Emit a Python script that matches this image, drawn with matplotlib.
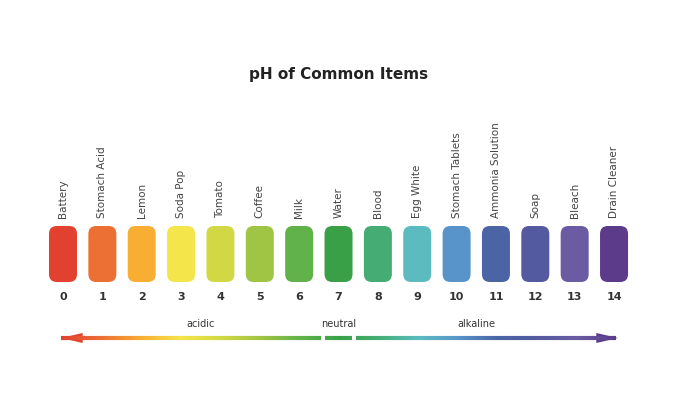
import numpy as np
import matplotlib
matplotlib.use("Agg")
import matplotlib.pyplot as plt
from matplotlib.patches import FancyBboxPatch, Polygon
from matplotlib.collections import LineCollection
from matplotlib.colors import LinearSegmentedColormap

title = "pH of Common Items"
ph_values = list(range(15))
items = ["Battery", "Stomach Acid", "Lemon", "Soda Pop", "Tomato", "Coffee", "Milk",
         "Water", "Blood", "Egg White", "Stomach Tablets", "Ammonia Solution",
         "Soap", "Bleach", "Drain Cleaner"]
colors = ["#e2412f", "#ec7034", "#f7ae33", "#f4e54a", "#d1d843", "#a0c443", "#62b24b",
          "#3aa047", "#45ad74", "#5bbbbf", "#5894c9", "#4a64a5", "#545a9f", "#6a5ba3",
          "#5c3b8a"]
zones = [("acidic", 3.5), ("neutral", 7.0), ("alkaline", 10.5)]

fig = plt.figure(figsize=(6.77, 4.07), dpi=100)
ax = fig.add_axes([0, 0, 1, 1])
# x in pH units, y in pixels from top
step = 39.36
ax.set_xlim(-63 / step, (677 - 63) / step)
ax.set_ylim(407, 0)
ax.axis("off")

ax.text(7, 74, title, ha="center", va="center", fontsize=11, fontweight="bold", color="#222222")

w = 28 / step
for v, name, c in zip(ph_values, items, colors):
    ax.add_patch(FancyBboxPatch((v - w / 2, 226), w, 56,
                                boxstyle="round,pad=0,rounding_size=0.2",
                                mutation_aspect=step, fc=c, ec="none"))
    ax.text(v, 297, str(v), ha="center", va="center", fontsize=8, fontweight="bold", color="#333333")
    ax.text(v, 218, name, ha="center", va="bottom", rotation=90, fontsize=7.5, color="#444444")

# gradient arrow
cmap = LinearSegmentedColormap.from_list("ph", colors)
y = 338
for x0, x1 in [(-0.05, 6.55), (6.65, 7.35), (7.45, 14.05)]:
    xs = np.linspace(x0, x1, 120)
    segs = [[(xs[i], y), (xs[i + 1], y)] for i in range(len(xs) - 1)]
    lc = LineCollection(segs, colors=cmap((xs[:-1] + 0.05) / 14.1), linewidths=3)
    ax.add_collection(lc)
ax.add_patch(Polygon([(-0.05, y), (0.5, y - 5), (0.5, y + 5)], closed=True, fc=colors[0], ec="none"))
ax.add_patch(Polygon([(14.1, y), (13.55, y - 5), (13.55, y + 5)], closed=True, fc=colors[-1], ec="none"))
for label, xv in zones:
    ax.text(xv, 324, label, ha="center", va="center", fontsize=7, color="#333333")

fig.savefig("out.png", dpi=100, facecolor="white")
